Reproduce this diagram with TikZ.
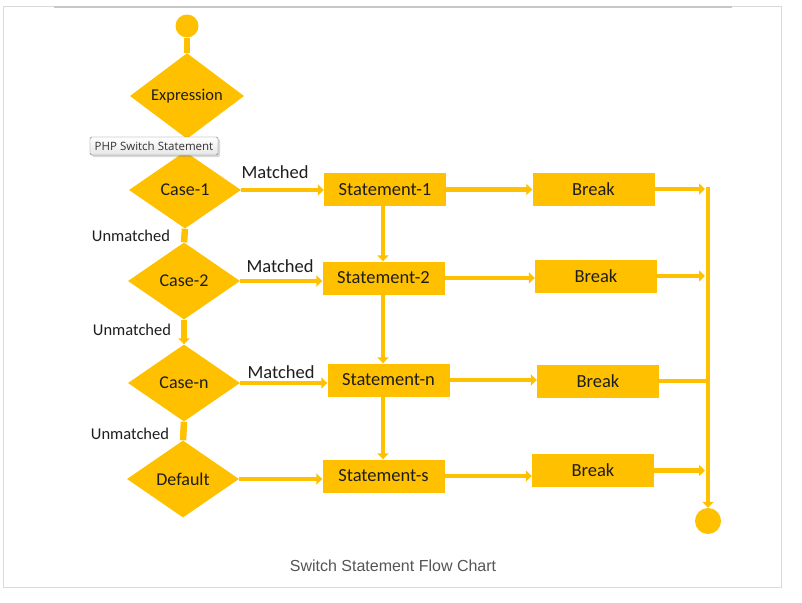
\documentclass[tikz,border=0pt]{standalone}
\usepackage{fontspec}
\setmainfont{Carlito}
\newfontfamily\tipfont{Open Sans}
\newfontfamily\capfont{Liberation Sans}
\usepackage{xcolor}
\usetikzlibrary{shapes.geometric,arrows.meta,shadows}
\definecolor{gold}{HTML}{FFC000}
\definecolor{ink}{HTML}{1E1E1E}
\definecolor{framegray}{HTML}{DADADA}
\definecolor{capgray}{HTML}{555555}

\tikzset{
	flow/.style={draw=gold, line width=4.5pt},
	flowarrow/.style={flow, -{Triangle[length=6pt,width=11pt]}},
	casebox/.style={diamond, fill=gold, minimum width=112pt, minimum height=77pt,
		inner sep=0pt, text=ink, font=\fontsize{18}{18}\selectfont},
	stmtbox/.style={rectangle, fill=gold, minimum width=122pt, minimum height=33pt,
		inner sep=0pt, text=ink, font=\fontsize{18.5}{18.5}\selectfont},
	dot/.style={circle, fill=gold, inner sep=0pt},
	lbl/.style={text=ink, font=\fontsize{16.5}{16.5}\selectfont}
}

\begin{document}
\begin{tikzpicture}[x=1pt,y=-1pt]
	\useasboundingbox (0,0) rectangle (802,602);
	\fill[white] (0,0) rectangle (802,602);
	% frame
	\draw[framegray, line width=1pt] (3,6.5) rectangle (781,587);
	\draw[black!22, line width=1.6pt] (54,7) -- (732,7);
	
	% start and end
	\node[dot, minimum size=23pt] (start) at (187,26) {};
	\node[dot, minimum size=26pt] (stop) at (708,521) {};
	
	% decisions
	\node[casebox, minimum width=114pt, minimum height=79pt, font=\fontsize{16.5}{16.5}\selectfont] (expr) at (187,96) {Expression};
	\foreach \n/\px/\py/\t in
	{case1/185/190/Case-1, case2/184/281/Case-2, casen/184/383/Case-n, default/183/479/Default}{
		\node[casebox] (\n) at (\px,\py) {\t};
	}
	
	% statements
	\foreach \n/\px/\py/\t in
	{s1/385/189.5/Statement-1, s2/383.5/278/Statement-2, sn/388.5/380/Statement-n, ss/383.5/476/Statement-s}{
		\node[stmtbox] (\n) at (\px,\py) {\t};
	}
	
	% breaks
	\foreach \n/\px/\py in
	{b1/593.5/189/, b2/596/276/, b3/598/381/, b4/593/470.5/}{
		\node[stmtbox] (\n) at (\px,\py) {Break};
	}
	
	\coordinate (bustop) at (708,187);
	
	% connectors
	\draw[flow, line width=6pt] (start) -- (expr.north);
	\draw[flow, line width=6pt] (expr.south) -- (case1.north);
	\draw[flow, line width=6.5pt] (case1.south) -- (case2.north);
	\draw[flowarrow, line width=5.5pt] (case2.south) -- (casen.north);
	\draw[flow, line width=6.5pt] (casen.south) -- (default.north);
	
	\foreach \a/\b in
	{case1/s1, case2/s2, casen/sn, default/ss, s1/b1, s2/b2, sn/b3, ss/b4}{
		\draw[flowarrow] (\a.east) -- (\a.east -| \b.west);
	}
	\foreach \a/\b in
	{s1/s2, s2/sn, sn/ss}{
		\draw[flowarrow] (\a.south -| 383,0) -- (\b.north -| 383,0);
	}
	
	\foreach \b in {b1, b2, b4}{
		\draw[flowarrow, shorten >=3pt] (\b.east) -- (\b.east -| bustop);
	}
	\draw[flow] (b3.east) -- (b3.east -| bustop);
	\draw[flowarrow] (bustop) -- (stop.north);
	
	% labels
	\node[lbl] (um1) at (131,236) {Unmatched};
	\node[lbl] (um2) at (132,330) {Unmatched};
	\node[lbl] (um3) at (130,434) {Unmatched};
	\node[lbl, font=\fontsize{18.5}{18.5}\selectfont] (m1) at (275,172) {Matched};
	\node[lbl, font=\fontsize{18.5}{18.5}\selectfont] (m2) at (280,266) {Matched};
	\node[lbl, font=\fontsize{18.5}{18.5}\selectfont] (m3) at (281,372) {Matched};
	
	% tooltip
	\node[draw=black!55, top color=white, bottom color=black!10, rounded corners=1.5pt,
		minimum width=128pt, minimum height=18pt, inner sep=0pt,
		drop shadow={shadow xshift=2pt, shadow yshift=-2pt, opacity=0.3},
		font=\tipfont\fontsize{11.5}{11.5}\selectfont, text=black!80] (tip) at (154,146) {PHP Switch Statement};
	
	% caption
	\node[text=capgray, font=\capfont\fontsize{16}{16}\selectfont] (cap) at (393,566) {Switch Statement Flow Chart};
\end{tikzpicture}
\end{document}
